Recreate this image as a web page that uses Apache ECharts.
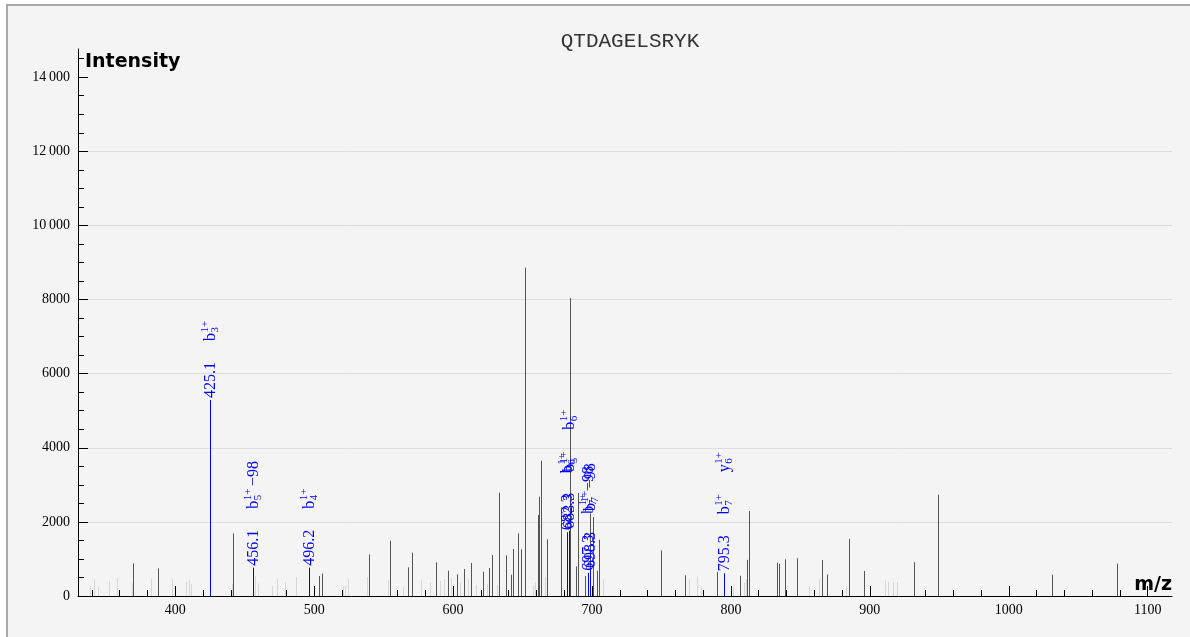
<!DOCTYPE html>
<html>
<head>
<meta charset="utf-8">
<script src="https://cdn.jsdelivr.net/npm/echarts@6/dist/echarts.min.js"></script>
<style>
	html, body{margin:0;padding:0;background:#fff;overflow:hidden;}
	#frame{position:absolute;left:6px;top:4px;width:1210px;height:700px;border:2px solid #a9a9a9;background:#f4f4f4;}
	#main{position:absolute;left:0;top:0;width:1190px;height:637px;}
</style>
</head>
<body>
<div id="frame"></div>
<div id="main"></div>
<script>
	var peptide = 'QTDAGELSRYK';

	// unannotated peaks
	var peakMz  = [369.8, 387.8, 441.7, 503.6, 505.5, 539.8, 554.7, 567.7, 570.7, 587.6, 596.1, 603.1, 607.7, 613.0, 621.8, 625.7, 627.8, 632.9, 637.9, 642.0, 642.9, 646.8, 648.7, 651.8, 660.9, 661.5, 663.1, 667.9, 677.7, 684.0, 688.6, 689.7, 694.9, 698.8, 700.4, 703.8, 705.0, 749.9, 766.7, 789.7, 806.8, 811.9, 812.8, 832.9, 834.7, 838.9, 847.8, 865.8, 868.9, 885.0, 895.9, 932.0, 949.0, 1031.0, 1077.9];
	var peakInt = [880, 746, 1690, 540, 605, 1120, 1492, 773, 1169, 908, 683, 584, 728, 890, 656, 755, 1106, 2787, 1097, 575, 1268, 1690, 1259, 8860, 2185, 2680, 3650, 1530, 2390, 8040, 800, 2780, 540, 2230, 2130, 683, 1520, 1230, 557, 650, 548, 975, 2293, 895, 868, 989, 1020, 971, 580, 1543, 674, 912, 2733, 575, 872];

	// faint (noise) peaks
	var noiseMz  = [338.6, 341.5, 344.6, 352.5, 357.8, 368.6, 382.5, 397.6, 407.4, 409.6, 411.7, 440.5, 457.6, 459.7, 469.8, 473.6, 478.9, 486.6, 520.5, 522.1, 524.7, 537.9, 553.0, 563.8, 576.7, 583.7, 590.4, 593.7, 598.8, 604.8, 610.6, 616.8, 624.7, 631.9, 657.6, 658.8, 666.0, 707.9, 769.8, 775.8, 778.2, 801.7, 809.1, 810.8, 856.3, 863.5, 882.7, 910.8, 913.2, 916.8, 919.7];
	var noiseInt = [280, 450, 250, 413, 485, 340, 467, 477, 386, 450, 315, 324, 540, 340, 270, 467, 378, 512, 250, 270, 470, 512, 420, 260, 440, 369, 405, 450, 485, 350, 477, 300, 315, 297, 280, 378, 520, 459, 459, 522, 250, 243, 360, 459, 280, 459, 270, 423, 378, 378, 378];

	// annotated fragment ions
	var ionMz  = [425.1, 456.1, 496.2, 682.3, 683.3, 697.3, 698.3, 795.3];
	var ionInt = [5290, 765, 765, 1720, 1760, 625, 700, 612];
	var ionLabels = [
		['b|3|1+|'],
		['b|5|1+|\u221298'],
		['b|4|1+|'],
		['b|6|1+|'],
		['b|5|1+|', 'b|6|1+|'],
		['b|7|1+|\u221298'],
		['b|7|1+|\u221298'],
		['b|7|1+|', 'y|6|1+|']
	];

	var xLabels = [400, 500, 600, 700, 800, 900, 1000, 1100];
	var xMinor = [340, 360, 380, 420, 440, 460, 480, 520, 540, 560, 580, 620, 640, 660, 680, 720, 740, 760, 780, 820, 840, 860, 880, 920, 940, 960, 980, 1020, 1040, 1060, 1080];
	var yLabels = [0, 2000, 4000, 6000, 8000, 10000, 12000, 14000];
	var yMinor = [500, 1000, 1500, 2500, 3000, 3500, 4500, 5000, 5500, 6500, 7000, 7500, 8500, 9000, 9500, 10500, 11000, 11500, 12500, 13000, 13500, 14500];

	var serif = '"Liberation Serif", "DejaVu Serif", serif';
	var ctx = document.createElement('canvas').getContext('2d');
	function textW(s, size){
		ctx.font = size + 'px ' + serif;
		return ctx.measureText(s).width;
	}

	function zip(a, b){
		var out = [];
		for (var i = 0; i < a.length; i++) out.push([a[i], b[i], i]);
		return out;
	}

	function stick(color){
		return function(params, api){
			var p0 = api.coord([api.value(0), 0]);
			var p1 = api.coord([api.value(0), api.value(1)]);
			var x = Math.round(p0[0]) + 0.5;
			return {type:'line', silent:true,
				shape:{x1:x, y1:p0[1], x2:x, y2:p1[1]},
				style:{stroke:color, lineWidth:1}};
		};
	}

	var BLUE = '#0000ff';
	function txt(s, x, y, size){
		return {type:'text', x:x, y:y, style:{text:s, fontSize:size, fontFamily:serif, fill:BLUE, align:'left', verticalAlign:'middle'}};
	}
	function ionItem(params, api){
		var i = api.value(2);
		var p0 = api.coord([api.value(0), 0]);
		var p1 = api.coord([api.value(0), api.value(1)]);
		var x = Math.round(p0[0]) + 0.5;
		// m/z value first, then ion names stacked upward (rotated group)
		var kids = [txt(ionMz[i].toFixed(1), 2, 0, 16)];
		ionLabels[i].forEach(function(lb, k){
			var parts = lb.split('|');
			var d = 59 + 42 * k;
			var wb = textW(parts[0], 16);
			kids.push(txt(parts[0], d, 0, 16));
			kids.push(txt(parts[2], d + wb + 0.5, -5, 11));
			kids.push(txt(parts[1], d + wb + 0.5, 5, 11));
			if (parts[3]) {
				var ws = Math.max(textW(parts[1], 11), textW(parts[2], 11));
				kids.push(txt(parts[3], d + wb + ws + 3, 0, 16));
			}
		});
		return {type:'group', silent:true, children:[
			{type:'line', shape:{x1:x, y1:p0[1], x2:x, y2:p1[1]}, style:{stroke:BLUE, lineWidth:1}},
			{type:'group', x:x, y:p1[1], rotation:Math.PI / 2, children:kids}
		]};
	}

	function fmtY(v){
		var s = String(v);
		return v >= 10000 ? s.slice(0, -3) + '\u2009' + s.slice(-3) : s;
	}

	var myChart = echarts.init(document.getElementById('main'));
	var option = {
		backgroundColor: 'transparent',
		animation: false,
		title: {
			text: peptide, left: 625, top: 26, textAlign: 'center',
			textStyle: {fontFamily: '"Liberation Mono", monospace', fontWeight: 'normal', fontSize: 21, color: '#333'}
		},
		grid: {left: 78, right: 18, top: 49, bottom: 41, containLabel: false},
		xAxis: [{
			type: 'value', min: 330, max: 1117.5,
			axisLine: {lineStyle: {color: '#000', width: 1}},
			axisTick: {inside: true, length: 10, customValues: xLabels, lineStyle: {color: '#000'}},
			axisLabel: {customValues: xLabels, formatter: function(v){ return String(v); }, margin: 7, color: '#000', fontFamily: serif, fontSize: 14},
			splitLine: {show: false}
		}, {
			type: 'value', min: 330, max: 1117.5, position: 'bottom',
			axisLine: {show: false},
			axisTick: {inside: true, length: 6, customValues: xMinor, lineStyle: {color: '#000'}},
			axisLabel: {show: false},
			splitLine: {show: false}
		}],
		yAxis: [{
			type: 'value', min: 0, max: 14760, interval: 2000,
			axisLine: {show: true, lineStyle: {color: '#000', width: 1}},
			axisTick: {show: true, inside: true, length: 10, customValues: yLabels, lineStyle: {color: '#000'}},
			axisLabel: {customValues: yLabels, formatter: fmtY, margin: 8, color: '#000', fontFamily: serif, fontSize: 14},
			splitLine: {show: true, showMaxLine: false, lineStyle: {color: '#dcdcdc', width: 1}}
		}, {
			type: 'value', min: 0, max: 14760, position: 'left',
			axisLine: {show: false},
			axisTick: {show: true, inside: true, length: 6, customValues: yMinor, lineStyle: {color: '#000'}},
			axisLabel: {show: false},
			splitLine: {show: false}
		}],
		graphic: [
			{type: 'text', left: 85, top: 53, style: {text: 'Intensity', fontFamily: '"DejaVu Sans", sans-serif', fontWeight: 'bold', fontSize: 19, fill: '#000'}},
			{type: 'text', right: 18, top: 576, style: {text: 'm/z', fontFamily: '"DejaVu Sans", sans-serif', fontWeight: 'bold', fontSize: 19, fill: '#000'}}
		],
		series: [{
			name: 'noise', type: 'custom', renderItem: stick('#d6d6d6'),
			data: zip(noiseMz, noiseInt), encode: {x: 0, y: 1}, z: 1
		}, {
			name: 'peaks', type: 'custom', renderItem: stick('#555'),
			data: zip(peakMz, peakInt), encode: {x: 0, y: 1}, z: 2
		}, {
			name: 'ions', type: 'custom', renderItem: ionItem,
			data: zip(ionMz, ionInt), encode: {x: 0, y: 1}, z: 3
		}]
	};
	myChart.setOption(option);
</script>
</body>
</html>
